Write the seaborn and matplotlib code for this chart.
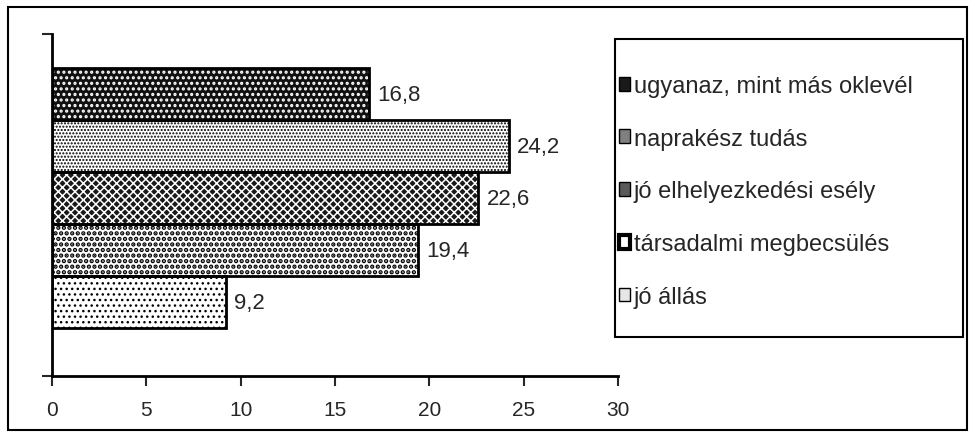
import pandas as pd
import numpy as np
import matplotlib.pyplot as plt
import seaborn as sns
from matplotlib.patches import Rectangle, Patch

# adatok
series = ["ugyanaz, mint más oklevél", "naprakész tudás", "jó elhelyezkedési esély",
          "társadalmi megbecsülés", "jó állás"]
values = [16.8, 24.2, 22.6, 19.4, 9.2]
x_ticks = [0, 5, 10, 15, 20, 25, 30]

# mintázatok (face, hatch, hatch szín, hatch vastagság)
faces = ["#111111", "white", "#1a1a1a", "white", "white"]
hatches = ["...", ".....", "xxxx", "...", "..."]
hatch_cols = ["white", "black", "white", "black", "black"]
hatch_lws = [1.5, 1.0, 1.1, 2.2, 1.0]
legend_faces = ["#1a1a1a", "#808080", "#5a5a5a", "white", "#e6e6e6"]
legend_lws = [1, 1, 1, 3, 1]

sns.set_style("white")
plt.rcParams['font.family'] = ['Liberation Sans', 'DejaVu Sans']
plt.rcParams['hatch.linewidth'] = 1.2

df = pd.DataFrame({"cat": ["x"] * len(series), "series": series, "value": values})

fig = plt.figure(figsize=(9.75, 4.39), dpi=100)
ax = fig.add_axes([52 / 975, 62 / 439, 566 / 975, 342 / 439])

sns.barplot(data=df, x="value", y="cat", hue="series", hue_order=series,
            orient="h", width=0.76, gap=0, dodge=True, legend=False, ax=ax)

bars = ax.patches[:len(series)]
for p, fc, h, hc, hl in zip(bars, faces, hatches, hatch_cols, hatch_lws):
    p.set_facecolor(fc)
    p.set_hatch(h)
    p.set_edgecolor(hc)
    p.set_linewidth(0)
    if hasattr(p, "set_hatch_linewidth"):
        p.set_hatch_linewidth(hl)
    ax.add_patch(Rectangle(p.get_xy(), p.get_width(), p.get_height(),
                           fill=False, edgecolor="black", lw=2, zorder=3))

for cont in ax.containers:
    ax.bar_label(cont, labels=[f"{v:.1f}".replace(".", ",") for v in cont.datavalues],
                 padding=6, fontsize=16)

ax.set_xlim(0, 30)
ax.set_xticks(x_ticks)
ax.set_ylim(0.52, -0.48)
ax.set_yticks([-0.48, 0.52])
ax.set_yticklabels([])
ax.set_xlabel("")
ax.set_ylabel("")
ax.tick_params(axis="x", direction="out", length=7, width=1.5, labelsize=15, pad=10, bottom=True)
ax.tick_params(axis="y", direction="out", length=7, width=1.5, left=True)
for s in ["top", "right"]:
    ax.spines[s].set_visible(False)
for s in ["left", "bottom"]:
    ax.spines[s].set_linewidth(2)
    ax.spines[s].set_color("black")

# jelmagyarázat keret nélkül + külön keret
handles = [Patch(facecolor=lf, edgecolor="black", lw=lw) for lf, lw in zip(legend_faces, legend_lws)]
leg = fig.legend(handles, series, loc="upper left", bbox_to_anchor=(619 / 975, 1 - 76 / 439),
                 fontsize=17, frameon=False, handlelength=0.48, handleheight=0.52,
                 handletextpad=0.15, labelspacing=1.3, borderpad=0, borderaxespad=0)
fig.patches.append(Rectangle((615 / 975, 1 - 338 / 439), 348 / 975, 298 / 439,
                             transform=fig.transFigure, fill=False, edgecolor="black", lw=1.5))

fig.patches.append(Rectangle((8 / 975, 8 / 439), 959 / 975, 423 / 439, transform=fig.transFigure,
                             fill=False, edgecolor="black", lw=1.5))

fig.savefig("out.png", dpi=100)
